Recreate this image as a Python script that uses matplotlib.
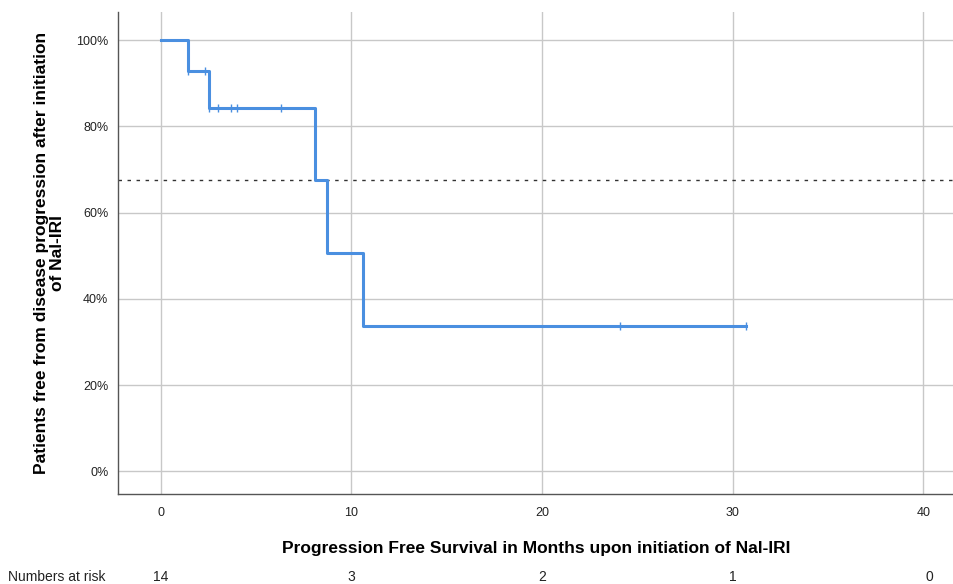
import matplotlib
matplotlib.use("Agg")
import matplotlib.pyplot as plt
from matplotlib.ticker import FuncFormatter

plt.rcParams['font.family'] = ['Liberation Sans', 'DejaVu Sans']

# Kaplan-Meier step data (months, survival %)
step_times = [0, 1.4, 2.5, 8.1, 8.7, 10.6, 30.7]
step_surv = [100, 92.9, 84.4, 67.5, 50.6, 33.8, 33.8]

# censored observations
censor_times = [1.4, 2.3, 2.5, 3.0, 3.7, 4.0, 6.3, 24.1, 30.7]
censor_surv = [92.9, 92.9, 84.4, 84.4, 84.4, 84.4, 84.4, 33.8, 33.8]

median_line = 67.5

risk_times = [0, 10, 20, 30, 40]
risk_counts = [14, 3, 2, 1, 0]

fig = plt.figure(figsize=(9.54, 5.84), dpi=100)
ax = fig.add_axes([0.1237, 0.154, 0.876, 0.825])

blue = "#4a8fe0"
ax.step(step_times, step_surv, where="post", color=blue, lw=2.2, zorder=3)
ax.plot(censor_times, censor_surv, ls="none", marker="|", ms=6, mew=1.0,
        color=blue, zorder=4)
ax.axhline(median_line, color="#333333", lw=1.0, ls=(0, (2.5, 4)), zorder=2)

ax.set_xlim(-2.25, 41.6)
ax.set_ylim(-5.3, 106.5)
ax.set_xticks([0, 10, 20, 30, 40])
ax.set_yticks([0, 20, 40, 60, 80, 100])
ax.yaxis.set_major_formatter(FuncFormatter(lambda v, p: f"{int(v)}%"))
ax.grid(True, color="#c8c8c8", lw=1.0, zorder=0)
ax.set_axisbelow(True)

for s in ["top", "right"]:
    ax.spines[s].set_visible(False)
for s in ["left", "bottom"]:
    ax.spines[s].set_color("#555555")
    ax.spines[s].set_linewidth(1.0)

ax.tick_params(axis="y", length=0, labelsize=9, colors="#222222", pad=7)
ax.tick_params(axis="x", length=0, labelsize=9, colors="#222222", pad=9)

ax.set_xlabel("Progression Free Survival in Months upon initiation of Nal-IRI",
              fontsize=12.5, fontweight="bold", labelpad=16)
ax.set_ylabel("Patients free from disease progression after initiation\nof Nal-IRI",
              fontsize=12.5, fontweight="bold", labelpad=8, linespacing=1.1)

# numbers at risk row
fig.text(8 / 954, 1 - 577 / 584, "Numbers at risk", fontsize=10, va="center",
         ha="left", color="#222222")
for t, n in zip(risk_times, risk_counts):
    xf = ax.transData.transform((t, 0))[0] / fig.dpi / fig.get_figwidth()
    if t == 40:
        xf += 6 / 954
    fig.text(xf, 1 - 577 / 584, str(n), fontsize=10, va="center", ha="center",
             color="#222222")

fig.savefig("out.png", dpi=100)
